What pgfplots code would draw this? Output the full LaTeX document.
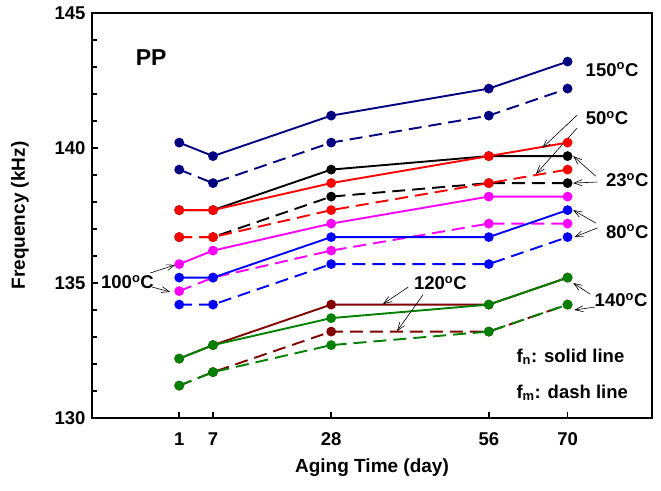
\documentclass[border=0pt]{standalone}
\usepackage{fontspec}
\setmainfont{Liberation Sans}
\usepackage{pgfplots}
\pgfplotsset{compat=1.18}
\usetikzlibrary{arrows.meta}
\definecolor{cnavy}{RGB}{0,0,128}
\definecolor{cblue}{RGB}{0,0,255}
\definecolor{cred}{RGB}{255,0,0}
\definecolor{cmag}{RGB}{255,0,255}
\definecolor{cbrown}{RGB}{128,0,0}
\definecolor{cgreen}{RGB}{0,128,0}
\newcommand{\lab}{\fontsize{18.5}{21}\selectfont\bfseries}
\newcommand{\dg}{\textsuperscript{o}}
\begin{document}
\begin{tikzpicture}[x=1pt,y=1pt]
\useasboundingbox (0,0) rectangle (661,490);
\begin{axis}[
  at={(92pt,72pt)}, anchor=south west,
  scale only axis, width=560pt, height=405pt,
  xmin=-14.5, xmax=85, ymin=130, ymax=145,
  xtick={1,7,28,56,70}, ytick={130,135,140,145},
  minor y tick num=4,
  tick pos=left, tick align=inside,
  major tick length=6pt, minor tick length=4.5pt,
  every tick/.style={black, line width=1.5pt},
  axis line style={line width=2pt},
  /pgf/number format/assume math mode=true,
  ticklabel style={font=\fontsize{18.5}{21}\selectfont\bfseries},
  xticklabel style={yshift=-11pt},
  yticklabel style={xshift=-3pt},
  xlabel={Aging Time (day)}, ylabel={Frequency (kHz)},
  label style={font=\fontsize{19}{22}\selectfont\bfseries},
  xlabel style={at={(axis description cs:0.5,-0.1235)}, anchor=center},
  ylabel style={at={(axis description cs:-0.1286,0.5)}, anchor=center},
  clip=false,
  every axis plot/.append style={line width=1.9pt, mark=*, mark size=3.9pt, mark options={solid}},
  dsh/.style={dash pattern=on 13pt off 7pt},
]
% dashed (f_m)
\addplot[cnavy, dsh] coordinates {(1,139.2)(7,138.7)(28,140.2)(56,141.2)(70,142.2)};
\addplot[black, dsh] coordinates {(1,136.7)(7,136.7)(28,138.2)(56,138.7)(70,138.7)};
\addplot[cred, dsh] coordinates {(1,136.7)(7,136.7)(28,137.7)(56,138.7)(70,139.2)};
\addplot[cmag, dsh] coordinates {(1,134.7)(7,135.2)(28,136.2)(56,137.2)(70,137.2)};
\addplot[cblue, dsh] coordinates {(1,134.2)(7,134.2)(28,135.7)(56,135.7)(70,136.7)};
\addplot[cbrown, dsh] coordinates {(1,131.2)(7,131.7)(28,133.2)(56,133.2)(70,134.2)};
\addplot[cgreen, dsh] coordinates {(1,131.2)(7,131.7)(28,132.7)(56,133.2)(70,134.2)};
% solid (f_n)
\addplot[cnavy] coordinates {(1,140.2)(7,139.7)(28,141.2)(56,142.2)(70,143.2)};
\addplot[black] coordinates {(1,137.7)(7,137.7)(28,139.2)(56,139.7)(70,139.7)};
\addplot[cred] coordinates {(1,137.7)(7,137.7)(28,138.7)(56,139.7)(70,140.2)};
\addplot[cmag] coordinates {(1,135.7)(7,136.2)(28,137.2)(56,138.2)(70,138.2)};
\addplot[cblue] coordinates {(1,135.2)(7,135.2)(28,136.7)(56,136.7)(70,137.7)};
\addplot[cbrown] coordinates {(1,132.2)(7,132.7)(28,134.2)(56,134.2)(70,135.2)};
\addplot[cgreen] coordinates {(1,132.2)(7,132.7)(28,133.7)(56,134.2)(70,135.2)};

% annotations
\node[font=\fontsize{23}{27}\selectfont\bfseries] at (axis cs:-4,143.33) {PP};
\node[font=\lab] at (axis cs:77.9,142.9) {150\dg C};
\node[font=\lab] at (axis cs:77.0,141.1) {50\dg C};
\node[font=\lab] at (axis cs:80.6,138.81) {23\dg C};
\node[font=\lab] at (axis cs:80.6,136.9) {80\dg C};
\node[font=\lab] at (axis cs:-8.2,135.04) {100\dg C};
\node[font=\lab] at (axis cs:47.4,135.0) {120\dg C};
\node[font=\lab] at (axis cs:79.5,134.37) {140\dg C};
\node[font=\lab, anchor=west] at (axis cs:60.3,132.26) {f\textsubscript{n}: solid line};
\node[font=\lab, anchor=west] at (axis cs:60.3,130.93) {f\textsubscript{m}: dash line};

\begin{scope}[line width=0.6pt, -{Straight Barb[length=8pt,width=6pt]}]
\draw (axis cs:71.7,141.22) -- (axis cs:65.5,140.0);
\draw (axis cs:71.7,140.74) -- (axis cs:64.4,139.04);
\draw (axis cs:75.0,138.96) -- (axis cs:71.0,139.70);
\draw (axis cs:75.3,138.74) -- (axis cs:71.0,138.70);
\draw (axis cs:75.0,137.22) -- (axis cs:71.0,137.70);
\draw (axis cs:75.3,137.04) -- (axis cs:71.2,136.70);
\draw (axis cs:-4.15,135.37) -- (axis cs:0.29,135.67);
\draw (axis cs:-3.8,134.85) -- (axis cs:-0.6,134.67);
\draw (axis cs:41.7,134.85) -- (axis cs:37.2,134.22);
\draw (axis cs:44.3,134.56) -- (axis cs:39.7,133.22);
\draw (axis cs:74.0,134.59) -- (axis cs:71.0,135.0);
\draw (axis cs:74.9,134.11) -- (axis cs:71.2,134.0);
\end{scope}
\end{axis}
\end{tikzpicture}
\end{document}
